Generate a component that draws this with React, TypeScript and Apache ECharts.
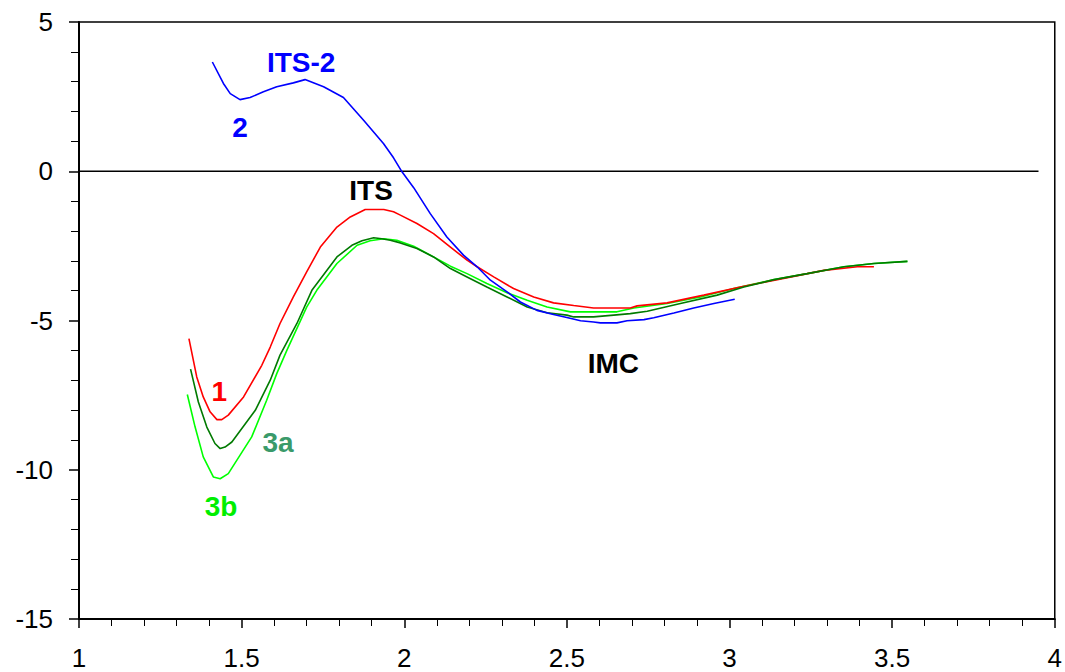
import React, { useEffect, useRef } from "react";
import * as echarts from "echarts";

const xTicks = [1, 1.5, 2, 2.5, 3, 3.5, 4];
const yTicks = [-15, -10, -5, 0, 5];

const blueX = [1.410,1.444,1.465,1.495,1.526,1.567,1.608,1.659,1.695,1.752,1.813,1.875,1.936,1.967,1.993,2.029,2.080,2.131,2.182,2.224,2.265,2.316,2.357,2.408,2.459,2.500,2.542,2.582,2.603,2.654,2.685,2.737,2.767,2.829,2.890,2.952,3.016];
const blueY = [3.66,2.94,2.60,2.40,2.47,2.66,2.83,2.96,3.07,2.83,2.47,1.71,0.93,0.45,-0.02,-0.55,-1.42,-2.20,-2.81,-3.20,-3.65,-4.04,-4.38,-4.66,-4.80,-4.90,-5.01,-5.05,-5.08,-5.08,-5.01,-4.97,-4.91,-4.75,-4.58,-4.43,-4.29];

const redX = [1.338,1.362,1.382,1.403,1.424,1.439,1.459,1.506,1.562,1.588,1.618,1.659,1.700,1.742,1.793,1.834,1.880,1.937,1.967,1.988,2.039,2.090,2.142,2.193,2.224,2.275,2.336,2.398,2.459,2.521,2.582,2.695,2.716,2.808,2.921,3.044,3.147,3.290,3.393,3.444];
const redY = [-5.61,-6.89,-7.56,-8.06,-8.32,-8.32,-8.17,-7.56,-6.50,-5.89,-5.10,-4.21,-3.37,-2.54,-1.87,-1.53,-1.28,-1.28,-1.36,-1.47,-1.75,-2.09,-2.54,-2.98,-3.20,-3.54,-3.93,-4.21,-4.41,-4.50,-4.58,-4.58,-4.51,-4.41,-4.15,-3.85,-3.63,-3.32,-3.20,-3.20];

const darkX = [1.343,1.367,1.393,1.418,1.434,1.449,1.470,1.542,1.588,1.618,1.670,1.716,1.793,1.839,1.870,1.906,1.931,1.957,1.988,2.039,2.090,2.142,2.193,2.254,2.316,2.378,2.439,2.500,2.521,2.582,2.644,2.695,2.747,2.849,2.962,3.044,3.137,3.239,3.352,3.444,3.547];
const darkY = [-6.63,-7.73,-8.57,-9.12,-9.29,-9.24,-9.07,-8.01,-7.00,-6.16,-5.10,-3.99,-2.87,-2.48,-2.33,-2.23,-2.26,-2.31,-2.40,-2.59,-2.87,-3.26,-3.54,-3.88,-4.21,-4.55,-4.74,-4.82,-4.88,-4.88,-4.82,-4.77,-4.69,-4.43,-4.15,-3.88,-3.63,-3.43,-3.20,-3.09,-3.02];

const lightX = [1.333,1.357,1.382,1.413,1.434,1.459,1.531,1.577,1.608,1.639,1.700,1.731,1.793,1.855,1.895,1.937,1.977,2.029,2.090,2.142,2.193,2.254,2.316,2.378,2.439,2.511,2.562,2.654,2.706,2.808,2.911,3.013,3.137,3.239,3.352,3.444,3.547];
const lightY = [-7.48,-8.57,-9.57,-10.24,-10.30,-10.13,-8.90,-7.67,-6.78,-6.00,-4.55,-3.99,-3.09,-2.48,-2.33,-2.26,-2.31,-2.51,-2.87,-3.18,-3.43,-3.76,-4.07,-4.32,-4.55,-4.71,-4.71,-4.71,-4.58,-4.43,-4.21,-3.93,-3.63,-3.43,-3.20,-3.09,-3.02];

const zeroLineX = [1, 3.95];
const zeroLineY = [0, 0];

const labelNames = ["ITS-2", "2", "ITS", "1", "3a", "3b", "IMC"];
const labelX = [1.683, 1.495, 1.898, 1.431, 1.612, 1.437, 2.643];
const labelY = [3.65, 1.47, -0.64, -7.37, -9.08, -11.22, -6.43];
const labelColors = ["#0000ff", "#0000ff", "#000000", "#ff0000", "#3a9a6a", "#00ee00", "#000000"];

const zip = (xs: number[], ys: number[]) => xs.map((x, i) => [x, ys[i]]);

export default function App() {
  const ref = useRef<HTMLDivElement>(null);
  useEffect(() => {
    if (!ref.current) return;
    const chart = echarts.init(ref.current, undefined, { renderer: "svg" });
    const font = "Liberation Sans, Arial, sans-serif";
    const lineSeries = (data: number[][], color: string, width = 1.6) => ({
      type: "line",
      data,
      showSymbol: false,
      symbol: "none",
      smooth: false,
      lineStyle: { color, width },
      z: 3,
    });
    chart.setOption({
      animation: false,
      backgroundColor: "#ffffff",
      grid: {
        left: 79,
        top: 22,
        right: 10,
        bottom: 53,
        show: true,
        borderColor: "#000",
        borderWidth: 1.5,
        backgroundColor: "transparent",
      },
      xAxis: {
        type: "value",
        min: xTicks[0],
        max: xTicks[xTicks.length - 1],
        interval: 0.5,
        axisLine: { show: true, onZero: false, lineStyle: { color: "#000", width: 2 } },
        axisTick: { show: true, inside: false, length: 9, lineStyle: { color: "#000", width: 1.5 } },
        minorTick: { show: true, splitNumber: 5, length: 7, lineStyle: { color: "#000", width: 1 } },
        splitLine: { show: false },
        axisLabel: { color: "#000", fontSize: 26, fontFamily: font, margin: 26 },
      },
      yAxis: {
        type: "value",
        min: yTicks[0],
        max: yTicks[yTicks.length - 1],
        interval: 5,
        axisLine: { show: true, onZero: false, lineStyle: { color: "#000", width: 2 } },
        axisTick: { show: true, inside: false, length: 10, lineStyle: { color: "#000", width: 1.5 } },
        minorTick: { show: true, splitNumber: 5, length: 8, lineStyle: { color: "#000", width: 1 } },
        splitLine: { show: false },
        axisLabel: { color: "#000", fontSize: 26, fontFamily: font, margin: 26 },
      },
      series: [
        lineSeries(zip(zeroLineX, zeroLineY), "#000000", 1.6),
        lineSeries(zip(lightX, lightY), "#00ff00"),
        lineSeries(zip(redX, redY), "#ff0000"),
        lineSeries(zip(darkX, darkY), "#007a00"),
        lineSeries(zip(blueX, blueY), "#0000ff"),
        {
          type: "scatter",
          symbolSize: 1,
          itemStyle: { color: "transparent", opacity: 1 },
          z: 5,
          data: labelNames.map((n, i) => ({
            name: n,
            value: [labelX[i], labelY[i]],
            label: {
              show: true,
              position: "inside",
              formatter: n,
              color: labelColors[i],
              opacity: 1,
              textBorderWidth: 0,
              fontSize: 28,
              fontWeight: "bold",
              fontFamily: font,
            },
          })),
        },
      ],
    });
    return () => chart.dispose();
  }, []);
  return (
    <div
      ref={ref}
      style={{ position: "fixed", left: 0, top: 0, width: 1065, height: 672, background: "#fff" }}
    />
  );
}
